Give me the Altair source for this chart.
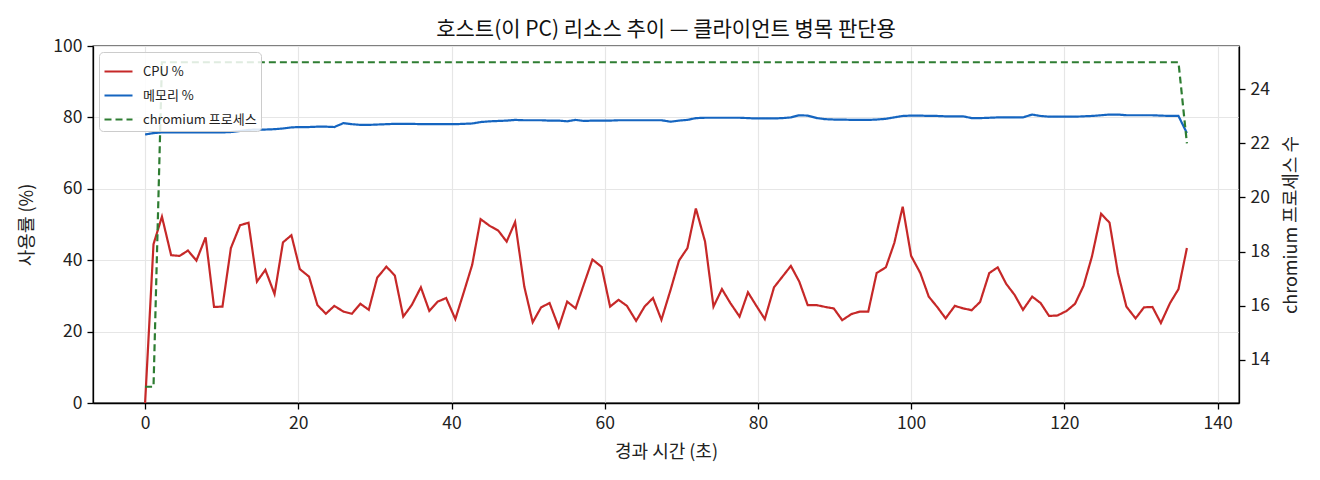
import altair as alt
import pandas as pd

FONT = "Noto Sans CJK KR"

# 경과 시간 (초)
elapsed = [
    0.0, 1.1, 2.2, 3.4, 4.5, 5.6, 6.7, 7.9, 9.0, 10.1,
    11.2, 12.4, 13.5, 14.6, 15.7, 16.9, 18.0, 19.1, 20.2, 21.4,
    22.5, 23.6, 24.7, 25.9, 27.0, 28.1, 29.2, 30.3, 31.5, 32.6,
    33.7, 34.8, 36.0, 37.1, 38.2, 39.3, 40.5, 41.6, 42.7, 43.8,
    45.0, 46.1, 47.2, 48.3, 49.5, 50.6, 51.7, 52.8, 54.0, 55.1,
    56.2, 57.3, 58.4, 59.6, 60.7, 61.8, 62.9, 64.1, 65.2, 66.3,
    67.4, 68.6, 69.7, 70.8, 71.9, 73.1, 74.2, 75.3, 76.4, 77.6,
    78.7, 79.8, 80.9, 82.1, 83.2, 84.3, 85.4, 86.5, 87.7, 88.8,
    89.9, 91.0, 92.2, 93.3, 94.4, 95.5, 96.7, 97.8, 98.9, 100.0,
    101.2, 102.3, 103.4, 104.5, 105.7, 106.8, 107.9, 109.0, 110.2, 111.3,
    112.4, 113.5, 114.6, 115.8, 116.9, 118.0, 119.1, 120.3, 121.4, 122.5,
    123.6, 124.8, 125.9, 127.0, 128.1, 129.3, 130.4, 131.5, 132.6, 133.8,
    134.9, 136.0,
]

# CPU 사용률 (%)
cpu = [
    0.0, 44.5, 52.2, 41.4, 41.2, 42.7, 39.9, 46.4, 26.9, 27.0,
    43.4, 49.8, 50.5, 34.0, 37.3, 30.5, 45.0, 47.0, 37.5, 35.4,
    27.4, 25.0, 27.2, 25.6, 25.0, 27.8, 26.1, 35.1, 38.2, 35.7,
    24.2, 27.4, 32.4, 25.8, 28.4, 29.4, 23.5, 31.0, 38.7, 51.5,
    49.6, 48.3, 45.2, 50.7, 32.6, 22.6, 26.8, 28.0, 21.2, 28.4,
    26.5, 33.4, 40.2, 38.1, 27.0, 28.9, 27.2, 23.0, 27.0, 29.4,
    23.3, 31.7, 39.9, 43.4, 54.5, 45.2, 27.0, 31.9, 28.0, 24.2,
    31.0, 27.2, 23.5, 32.4, 35.4, 38.4, 34.0, 27.4, 27.4, 26.9,
    26.5, 23.2, 24.9, 25.6, 25.6, 36.4, 38.0, 44.8, 55.0, 41.2,
    36.4, 29.8, 26.9, 23.7, 27.2, 26.5, 26.0, 28.3, 36.4, 38.0,
    33.4, 30.3, 26.1, 29.8, 28.0, 24.4, 24.5, 25.8, 27.8, 32.8,
    41.0, 53.0, 50.5, 36.4, 27.0, 23.7, 26.8, 26.9, 22.4, 28.0,
    31.9, 43.4,
]

# 메모리 사용률 (%)
mem = [
    75.2, 75.6, 75.8, 75.8, 75.8, 75.8, 75.8, 75.8, 75.8, 75.8,
    75.9, 76.2, 76.5, 76.6, 76.6, 76.7, 76.9, 77.2, 77.3, 77.3,
    77.4, 77.4, 77.3, 78.4, 78.1, 77.9, 77.9, 78.0, 78.1, 78.2,
    78.2, 78.2, 78.1, 78.1, 78.1, 78.1, 78.1, 78.2, 78.3, 78.7,
    78.9, 79.0, 79.1, 79.3, 79.2, 79.2, 79.2, 79.1, 79.1, 78.9,
    79.3, 79.0, 79.1, 79.1, 79.1, 79.2, 79.2, 79.2, 79.2, 79.2,
    79.2, 78.8, 79.1, 79.3, 79.8, 79.9, 79.9, 79.9, 79.9, 79.9,
    79.8, 79.7, 79.7, 79.7, 79.8, 80.0, 80.6, 80.5, 79.8, 79.5,
    79.4, 79.4, 79.3, 79.3, 79.3, 79.4, 79.6, 80.0, 80.4, 80.5,
    80.5, 80.4, 80.4, 80.3, 80.3, 80.3, 79.8, 79.8, 79.9, 80.0,
    80.0, 80.0, 80.0, 80.8, 80.4, 80.2, 80.2, 80.2, 80.2, 80.3,
    80.4, 80.6, 80.8, 80.8, 80.6, 80.6, 80.6, 80.6, 80.5, 80.4,
    80.4, 75.6,
]

# chromium 프로세스 수
procs = [
    13, 13, 25, 25, 25, 25, 25, 25, 25, 25,
    25, 25, 25, 25, 25, 25, 25, 25, 25, 25,
    25, 25, 25, 25, 25, 25, 25, 25, 25, 25,
    25, 25, 25, 25, 25, 25, 25, 25, 25, 25,
    25, 25, 25, 25, 25, 25, 25, 25, 25, 25,
    25, 25, 25, 25, 25, 25, 25, 25, 25, 25,
    25, 25, 25, 25, 25, 25, 25, 25, 25, 25,
    25, 25, 25, 25, 25, 25, 25, 25, 25, 25,
    25, 25, 25, 25, 25, 25, 25, 25, 25, 25,
    25, 25, 25, 25, 25, 25, 25, 25, 25, 25,
    25, 25, 25, 25, 25, 25, 25, 25, 25, 25,
    25, 25, 25, 25, 25, 25, 25, 25, 25, 25,
    25, 22,
]

SERIES = ["CPU %", "메모리 %", "chromium 프로세스"]
COLORS = ["#c62828", "#1565c0", "#2e7d32"]
DASHES = [[1, 0], [1, 0], [7, 4]]

x_ticks = [0, 20, 40, 60, 80, 100, 120, 140]
left_ticks = [0, 20, 40, 60, 80, 100]
right_ticks = [14, 16, 18, 20, 22, 24]

host = pd.DataFrame({"t": elapsed, "CPU %": cpu, "메모리 %": mem})
left_df = host.melt("t", var_name="series", value_name="value")
right_df = pd.DataFrame({"t": elapsed, "procs": procs, "series": "chromium 프로세스"})

x = alt.X(
    "t:Q",
    scale=alt.Scale(domain=[-6.8, 142.8], nice=False, zero=False),
    axis=alt.Axis(values=x_ticks, title="경과 시간 (초)", grid=True, titlePadding=12),
)
color = alt.Color(
    "series:N",
    scale=alt.Scale(domain=SERIES, range=COLORS),
    legend=alt.Legend(title=None),
)
dash = alt.StrokeDash(
    "series:N",
    scale=alt.Scale(domain=SERIES, range=DASHES),
    legend=alt.Legend(title=None),
)

usage = alt.Chart(left_df).mark_line(strokeWidth=2.2).encode(
    x=x,
    y=alt.Y(
        "value:Q",
        scale=alt.Scale(domain=[0, 100], nice=False),
        axis=alt.Axis(values=left_ticks, title="사용률 (%)", grid=True, titlePadding=16),
    ),
    color=color,
    strokeDash=dash,
)

chromium = alt.Chart(right_df).mark_line(strokeWidth=2.2).encode(
    x=x,
    y=alt.Y(
        "procs:Q",
        scale=alt.Scale(domain=[12.4, 25.6], nice=False, zero=False),
        axis=alt.Axis(
            orient="right", values=right_ticks, grid=False,
            title="chromium 프로세스 수", titleAngle=270, titleBaseline="top",
            titlePadding=13,
        ),
    ),
    color=color,
    strokeDash=dash,
)

chart = alt.layer(usage, chromium).resolve_scale(
    y="independent"
).properties(
    width=1146,
    height=357,
    autosize="none",
    padding={"left": 85, "top": 38, "right": 73, "bottom": 69},
    title=alt.Title(
        "호스트(이 PC) 리소스 추이 — 클라이언트 병목 판단용",
        font=FONT, fontSize=21, fontWeight="normal", color="#111",
        frame="group", offset=-3,
    ),
).configure_view(
    stroke="black", strokeWidth=1.3
).configure_axis(
    domainColor="black", domainWidth=1.3,
    tickColor="black", tickWidth=1.3, tickSize=6,
    labelFont=FONT, labelFontSize=17.5, labelColor="#222", labelPadding=5,
    titleFont=FONT, titleFontSize=18, titleFontWeight="normal", titleColor="#222",
    gridColor="#e6e6e6", gridWidth=1.2,
).configure_legend(
    orient="top-left", offset=6,
    fillColor="rgba(255,255,255,0.85)", strokeColor="#cccccc", cornerRadius=4,
    padding=4, labelFont=FONT, labelFontSize=13, labelColor="#222",
    symbolType="stroke", symbolSize=784, symbolStrokeWidth=2.2, labelOffset=9,
    rowPadding=1,
)

chart.save("out.html", embed_options={"renderer": "svg", "actions": False})
